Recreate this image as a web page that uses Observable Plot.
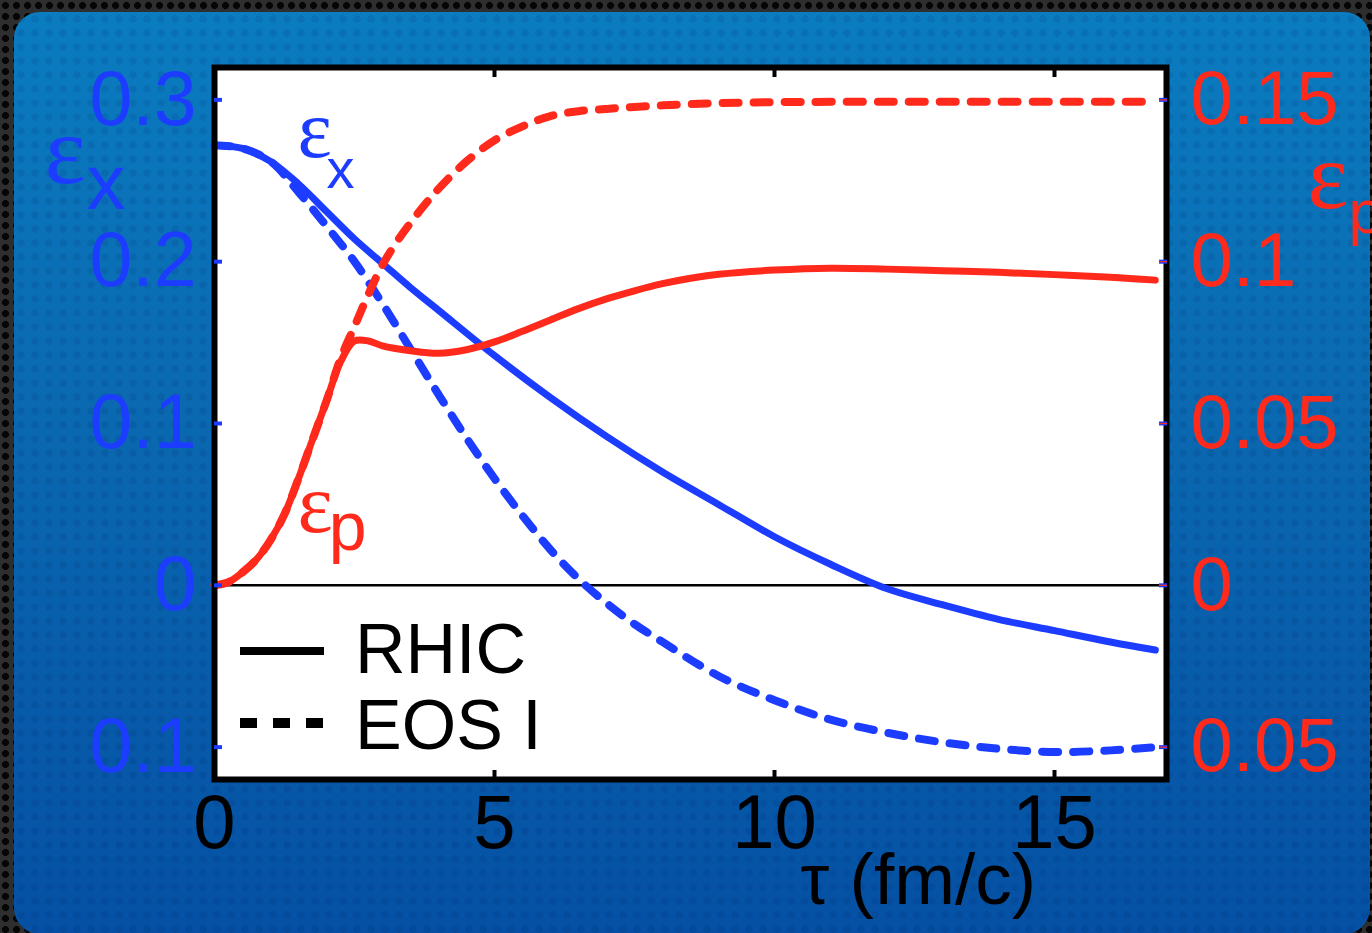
<!DOCTYPE html>
<html>
<head>
<meta charset="utf-8">
<script src="https://cdn.jsdelivr.net/npm/d3@7"></script>
<script src="https://cdn.jsdelivr.net/npm/@observablehq/plot@0.6"></script>
<style>
  html, body { margin: 0; padding: 0; }
  body {
    width: 1372px; height: 933px; overflow: hidden; position: relative;
    background-color: #2e2e2e;
    background-image: radial-gradient(circle, #050505 42%, transparent 48%);
    background-size: 11px 11px;
  }
  #panel {
    position: absolute; left: 14px; top: 12px; width: 1356px; height: 922px;
    border-radius: 26px;
    background-image:
      radial-gradient(circle, rgba(0,20,80,0.10) 35%, transparent 40%),
      linear-gradient(#0a7cc0, #0a68b0 45%, #0550a4);
    background-size: 14px 14px, 100% 100%;
  }
  #chart { position: absolute; left: 0; top: 0; }
  #legend { position: absolute; left: 0; top: 0; pointer-events: none; }
</style>
</head>
<body>
<div id="panel"></div>
<div id="chart"></div>
<svg id="legend" width="1372" height="933"></svg>
<script>
// ---- data ----
const tauRhicX = [0,0.5,1,1.5,2,2.5,3,3.5,4,5,6,7,8,9,10,11,12,13,14,15,16,16.8];
const epsXRhic = [0.272,0.270,0.262,0.248,0.231,0.214,0.199,0.184,0.170,0.142,0.116,0.092,0.070,0.050,0.030,0.013,-0.002,-0.012,-0.021,-0.028,-0.035,-0.040];

const tauEosX = [0,0.5,1,1.5,2,2.5,3,3.5,4,4.5,5,5.5,6,6.5,7,7.5,8,9,10,11,12,13,14,15,16,16.8];
const epsXEos = [0.272,0.270,0.262,0.243,0.222,0.200,0.174,0.146,0.118,0.091,0.066,0.043,0.022,0.004,-0.011,-0.024,-0.035,-0.056,-0.071,-0.083,-0.091,-0.097,-0.101,-0.103,-0.102,-0.100];

const tauRhicP = [0,0.25,0.5,0.75,1,1.25,1.5,1.75,2,2.25,2.5,2.75,3,3.5,4,4.5,5,5.5,6,6.5,7,7.5,8,8.5,9,10,11,12,13,14,15,16,16.8];
const epsPRhic = [0,0.001,0.004,0.008,0.014,0.022,0.033,0.045,0.057,0.069,0.0755,0.0755,0.074,0.0725,0.0717,0.0728,0.0752,0.0785,0.082,0.0855,0.0885,0.091,0.0932,0.0949,0.0961,0.0974,0.098,0.0977,0.0972,0.0967,0.096,0.0952,0.0943];

const tauEosP = [0,0.25,0.5,0.75,1,1.25,1.5,1.75,2,2.25,2.5,2.75,3,3.25,3.5,3.75,4,4.5,5,5.5,6,6.5,7,7.5,8,8.5,9,10,12,14,16,16.8];
const epsPEos = [0,0.001,0.004,0.008,0.014,0.022,0.033,0.045,0.057,0.070,0.080,0.090,0.099,0.106,0.112,0.1175,0.1225,0.131,0.1375,0.1418,0.145,0.1465,0.1472,0.1478,0.1483,0.1487,0.149,0.1493,0.1494,0.1494,0.1494,0.1494];

const xTicks = [0, 5, 10, 15];
const leftTicks = [0.3, 0.2, 0.1, 0, -0.1];
const leftTickLabels = ["0.3", "0.2", "0.1", "0", "0.1"];
const rightTickLabels = ["0.15", "0.1", "0.05", "0", "0.05"];
const legendLabels = ["RHIC", "EOS I"];
const xTitle = "τ (fm/c)";

// ---- build tables ----
const rows = (ts, vs) => ts.map((t, i) => ({t, v: vs[i]}));
const xRhic = rows(tauRhicX, epsXRhic);
const xEos = rows(tauEosX, epsXEos);
const pRhic = rows(tauRhicP, epsPRhic);
const pEos = rows(tauEosP, epsPEos);

const BLUE = "#1c3cff";
const RED = "#ff2a1c";
const SANS = "Liberation Sans, Arial, Helvetica, sans-serif";
const SERIF = "Liberation Serif, Times New Roman, serif";
const LW = 7;
const DW = 8;
const DASH = "16,15";

const chart = Plot.plot({
  width: 1372,
  height: 933,
  marginLeft: 214,
  marginRight: 206,
  marginTop: 67,
  marginBottom: 154,
  style: {background: "transparent", fontFamily: SANS, overflow: "visible"},
  x: {domain: [0, 17]},
  y: {domain: [-0.12, 0.32]},
  marks: [
    Plot.frame({fill: "white", stroke: "none"}),
    Plot.ruleY([0], {stroke: "black", strokeWidth: 2.5}),
    // epsilon_x
    Plot.line(xEos, {x: "t", y: "v", stroke: BLUE, strokeWidth: DW, strokeDasharray: DASH, curve: "catmull-rom"}),
    Plot.line(xRhic, {x: "t", y: "v", stroke: BLUE, strokeWidth: LW, curve: "catmull-rom"}),
    // epsilon_p (right axis = left axis / 2)
    Plot.line(pEos, {x: "t", y: d => 2 * d.v, stroke: RED, strokeWidth: DW, strokeDasharray: DASH, curve: "catmull-rom"}),
    Plot.line(pRhic, {x: "t", y: d => 2 * d.v, stroke: RED, strokeWidth: LW, curve: "catmull-rom"}),
    // in-plot labels
    Plot.text(["ε"], {x: [1.48], y: [0.2645], textAnchor: "start", lineAnchor: "bottom", fill: BLUE, fontSize: 82, fontFamily: SERIF}),
    Plot.text(["x"], {x: [2.0], y: [0.2454], textAnchor: "start", lineAnchor: "bottom", fill: BLUE, fontSize: 56, fontFamily: SANS}),
    Plot.text(["ε"], {x: [1.48], y: [0.0328], textAnchor: "start", lineAnchor: "bottom", fill: RED, fontSize: 84, fontFamily: SERIF}),
    Plot.text(["p"], {x: [2.04], y: [0.0216], textAnchor: "start", lineAnchor: "bottom", fill: RED, fontSize: 68, fontFamily: SANS}),
    // frame
    Plot.frame({stroke: "black", strokeWidth: 6}),
    // x ticks inside (bottom and top)
    Plot.axisX(xTicks, {anchor: "bottom", tickSize: 9, dy: -9, fill: "none", stroke: "black", strokeWidth: 4, label: null}),
    Plot.axisX(xTicks, {anchor: "top", tickSize: 9, dy: 9, fill: "none", stroke: "black", strokeWidth: 4, label: null}),
    Plot.axisX(xTicks, {anchor: "bottom", tickSize: 0, tickPadding: 15, fill: "black", fontSize: 76, label: null}),
    // left axis
    Plot.axisY(leftTicks, {anchor: "left", tickSize: 8, dx: 8, fill: "none", stroke: BLUE, strokeWidth: 4, label: null}),
    Plot.axisY(leftTicks, {anchor: "left", tickSize: 0, tickPadding: 18, fill: BLUE, fontSize: 77, label: null,
      tickFormat: d => leftTickLabels[leftTicks.indexOf(d)]}),
    // right axis
    Plot.axisY(leftTicks, {anchor: "right", tickSize: 8, dx: -8, fill: "none", stroke: BLUE, strokeWidth: 4, label: null}),
    Plot.axisY(leftTicks, {anchor: "right", tickSize: 8, dx: -8, fill: "none", stroke: RED, strokeWidth: 1.2, label: null}),
    Plot.axisY(leftTicks, {anchor: "right", tickSize: 0, tickPadding: 24, fill: RED, fontSize: 76, label: null,
      tickFormat: d => rightTickLabels[leftTicks.indexOf(d)]}),
    // axis titles
    Plot.text(["ε"], {frameAnchor: "top-left", dx: -170, dy: 115, textAnchor: "start", lineAnchor: "bottom", fill: BLUE, fontSize: 98, fontFamily: SERIF}),
    Plot.text(["x"], {frameAnchor: "top-left", dx: -128, dy: 141, textAnchor: "start", lineAnchor: "bottom", fill: BLUE, fontSize: 78, fontFamily: SANS}),
    Plot.text(["ε"], {frameAnchor: "top-right", dx: 141, dy: 140, textAnchor: "start", lineAnchor: "bottom", fill: RED, fontSize: 96, fontFamily: SERIF}),
    Plot.text(["p"], {frameAnchor: "top-right", dx: 182, dy: 165, textAnchor: "start", lineAnchor: "bottom", fill: RED, fontSize: 62, fontFamily: SANS}),
    Plot.text([xTitle], {frameAnchor: "bottom-left", dx: 586, dy: 124, textAnchor: "start", lineAnchor: "bottom", fill: "black", fontSize: 73, fontFamily: SANS})
  ]
});
document.getElementById("chart").appendChild(chart);

// ---- legend ----
const leg = d3.select("#legend");
const legRows = [
  {label: legendLabels[0], dash: null, y: 651, base: 673, w: 8},
  {label: legendLabels[1], dash: "17,16", y: 723, base: 749, w: 10}
];
for (const r of legRows) {
  leg.append("line").attr("x1", 240).attr("x2", 324).attr("y1", r.y).attr("y2", r.y)
    .attr("stroke", "black").attr("stroke-width", r.w).attr("stroke-dasharray", r.dash);
  leg.append("text").attr("x", 355).attr("y", r.base).attr("font-family", SANS)
    .attr("font-size", 70).attr("fill", "black").text(r.label);
}
</script>
</body>
</html>
